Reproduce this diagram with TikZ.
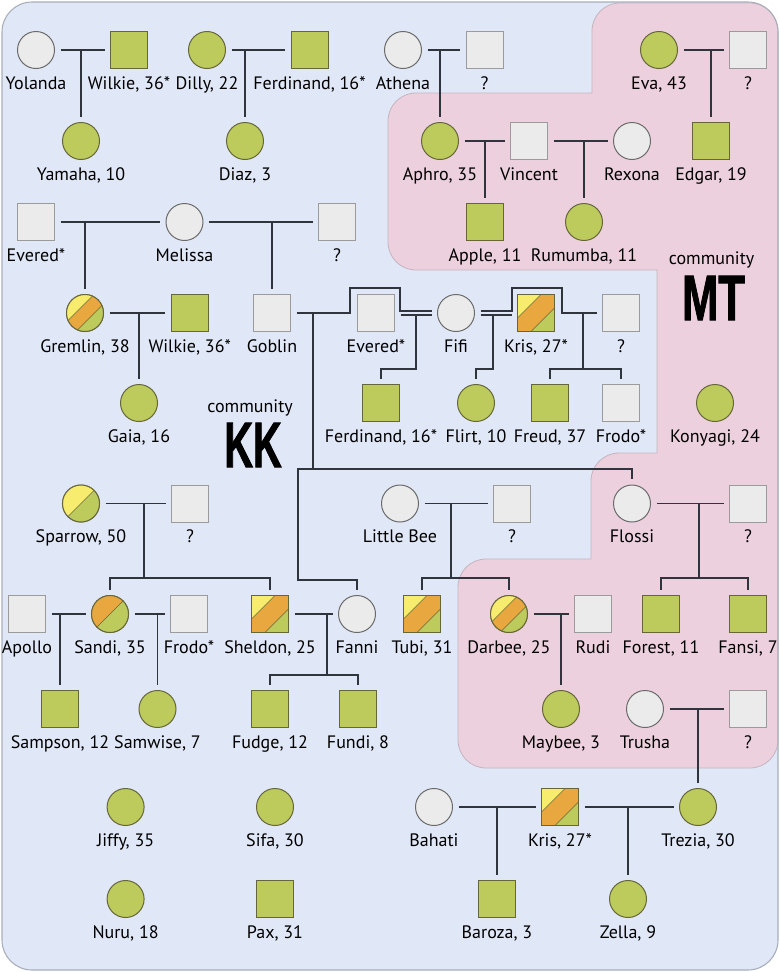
\documentclass[tikz,border=0pt]{standalone}
\usepackage{fontspec}
\setmainfont{PT Sans}
\newfontfamily\heavy[FakeBold=1.6]{Liberation Sans Bold}
\definecolor{bgblue}{HTML}{E0E7F6}
\definecolor{pinkc}{HTML}{EDD0DD}
\definecolor{pbord}{HTML}{C4B4C0}
\definecolor{bord}{HTML}{A8AEBA}
\definecolor{grn}{HTML}{BCCB5C}
\definecolor{gry}{HTML}{EBEBEB}
\definecolor{ylw}{HTML}{F7EC6E}
\definecolor{orng}{HTML}{E9A83F}
\definecolor{linec}{HTML}{30353D}
\definecolor{cgray}{HTML}{6A6A6A}
\definecolor{sgray}{HTML}{9B9B9B}
\definecolor{gbord}{HTML}{66663A}
\newcommand\pp[5]{\node[#1] (#2) at (#3,#4) {}; \node[lbl] (#2-l) at (#3,{#4+39}) {#5};}
\newcommand\tricirc[1]{%
 \begin{scope}[shift={(#1.center)}]
  \begin{scope}
   \clip (0,0) circle[radius=18.5];
   \fill[orng] (-20,-20) rectangle (20,20);
   \fill[ylw] (-40,-40) -- (-40,30.5) -- (30.5,-40) -- cycle;
   \fill[grn] (40,40) -- (40,-30.5) -- (-30.5,40) -- cycle;
   \draw[stripe] (-40,30.5) -- (30.5,-40) (40,-30.5) -- (-30.5,40);
  \end{scope}
  \draw[gbord, line width=0.75pt] (0,0) circle[radius=18.5];
 \end{scope}}
\newcommand\trisq[1]{%
 \begin{scope}[shift={(#1.center)}]
  \begin{scope}
   \clip (-18.5,-18.5) rectangle (18.5,18.5);
   \fill[orng] (-20,-20) rectangle (20,20);
   \fill[ylw] (-40,-40) -- (-40,26.5) -- (26.5,-40) -- cycle;
   \fill[grn] (40,40) -- (40,-26.5) -- (-26.5,40) -- cycle;
   \draw[stripe] (-40,26.5) -- (26.5,-40) (40,-26.5) -- (-26.5,40);
  \end{scope}
  \draw[gbord, line width=0.75pt] (-18.5,-18.5) rectangle (18.5,18.5);
 \end{scope}}
\newcommand\halfcirc[2]{%
 \begin{scope}[shift={(#1.center)}]
  \begin{scope}
   \clip (0,0) circle[radius=18.5];
   \fill[grn] (-20,-20) rectangle (20,20);
   \fill[#2] (-40,-40) -- (-40,40) -- (40,-40) -- cycle;
   \draw[stripe] (-40,40) -- (40,-40);
  \end{scope}
  \draw[gbord, line width=0.75pt] (0,0) circle[radius=18.5];
 \end{scope}}
\begin{document}
\begin{tikzpicture}[x=0.75pt,y=-0.75pt,
  conn/.style={draw=linec, line width=1.2pt},
  sh/.style={shorten >=4.5pt},
  shs/.style={shorten <=4.5pt, shorten >=4.5pt},
  stripe/.style={draw=gbord, line width=0.5pt},
  person/.style={inner sep=0pt, outer sep=0pt, minimum size=27.75pt, line width=0.75pt},
  pgc/.style={person, circle, fill=gry, draw=cgray},
  pgs/.style={person, rectangle, fill=gry, draw=sgray},
  pvc/.style={person, circle, fill=grn, draw=gbord},
  pvs/.style={person, rectangle, fill=grn, draw=gbord},
  lbl/.style={anchor=base, inner sep=0pt, font=\fontsize{13.5}{16}\selectfont},
  bigl/.style={inner sep=0pt, font=\heavy\fontsize{48}{50}\selectfont},
]
\useasboundingbox (0,0) rectangle (780,972);
\fill[bgblue, rounded corners=22.5pt] (2,2) rectangle (778,970);
\filldraw[fill=pinkc, draw=pbord, line width=0.6pt]
 (592,31) arc[start angle=180,end angle=270,radius=28] -- (750,3)
 arc[start angle=270,end angle=360,radius=28] -- (778,740)
 arc[start angle=0,end angle=90,radius=28] -- (486,768)
 arc[start angle=90,end angle=180,radius=28] -- (458,587)
 arc[start angle=180,end angle=270,radius=28] -- (591,559) -- (591,481)
 arc[start angle=180,end angle=270,radius=28] -- (657,453) -- (657,270) -- (416,270)
 arc[start angle=90,end angle=180,radius=28] -- (388,121)
 arc[start angle=180,end angle=270,radius=28] -- (592,93) -- cycle;
\draw[bord, line width=0.8pt, rounded corners=22.5pt] (2,2) rectangle (778,970);

% row 1
\pp{pgc}{yolanda}{36}{50}{Yolanda}
\pp{pvs}{wilkieA}{129}{50}{Wilkie, 36*}
\pp{pvc}{dilly}{207}{50}{Dilly, 22}
\pp{pvs}{ferdA}{309.5}{50}{Ferdinand, 16*}
\pp{pgc}{athena}{403}{50}{Athena}
\pp{pgs}{qA}{484.5}{50}{?}
\pp{pvc}{eva}{659}{50}{Eva, 43}
\pp{pgs}{qB}{748}{50}{?}
% row 2
\pp{pvc}{yamaha}{81}{141}{Yamaha, 10}
\pp{pvc}{diaz}{245}{141}{Diaz, 3}
\pp{pvc}{aphro}{440}{141}{Aphro, 35}
\pp{pgs}{vincent}{529}{141}{Vincent}
\pp{pgc}{rexona}{632}{141}{Rexona}
\pp{pvs}{edgar}{711}{141}{Edgar, 19}
% row 3
\pp{pgs}{everedA}{36}{222}{Evered*}
\pp{pgc}{melissa}{184.5}{222}{Melissa}
\pp{pgs}{qC}{337}{222}{?}
\pp{pvs}{apple}{485}{222}{Apple, 11}
\pp{pvc}{rumumba}{584}{222}{Rumumba, 11}
% row 4
\pp{pvc}{gremlin}{85}{313}{Gremlin, 38}
\pp{pvs}{wilkieB}{189.7}{313}{Wilkie, 36*}
\pp{pgs}{goblin}{272}{313}{Goblin}
\pp{pgs}{everedB}{376}{313}{Evered*}
\pp{pgc}{fifi}{456}{313}{Fifi}
\pp{pvs}{krisA}{536}{313}{Kris, 27*}
\pp{pgs}{qD}{621}{313}{?}
% row 5
\pp{pvc}{gaia}{139}{403}{Gaia, 16}
\pp{pvs}{ferdB}{381}{403}{Ferdinand, 16*}
\pp{pvc}{flirt}{476}{403}{Flirt, 10}
\pp{pvs}{freud}{550}{403}{Freud, 37}
\pp{pgs}{frodoA}{621}{403}{Frodo*}
\pp{pvc}{konyagi}{715}{403}{Konyagi, 24}
% row 6
\pp{pvc}{sparrow}{81}{503.5}{Sparrow, 50}
\pp{pgs}{qE}{190}{503.5}{?}
\pp{pgc}{littlebee}{400}{503.5}{Little Bee}
\pp{pgs}{qF}{512}{503.5}{?}
\pp{pgc}{flossi}{632}{503.5}{Flossi}
\pp{pgs}{qG}{748}{503.5}{?}
% row 7
\pp{pgs}{apollo}{27}{614}{Apollo}
\pp{pvc}{sandi}{110}{614}{Sandi, 35}
\pp{pgs}{frodoB}{189}{614}{Frodo*}
\pp{pvs}{sheldon}{270}{614}{Sheldon, 25}
\pp{pgc}{fanni}{357}{614}{Fanni}
\pp{pvs}{tubi}{422}{614}{Tubi, 31}
\pp{pvc}{darbee}{509}{614}{Darbee, 25}
\pp{pgs}{rudi}{593}{614}{Rudi}
\pp{pvs}{forest}{661}{614}{Forest, 11}
\pp{pvs}{fansi}{748}{614}{Fansi, 7}
% row 8
\pp{pvs}{sampson}{60}{709}{Sampson, 12}
\pp{pvc}{samwise}{157.5}{709}{Samwise, 7}
\pp{pvs}{fudge}{270}{709}{Fudge, 12}
\pp{pvs}{fundi}{358}{709}{Fundi, 8}
\pp{pvc}{maybee}{561}{709}{Maybee, 3}
\pp{pgc}{trusha}{645}{709}{Trusha}
\pp{pgs}{qH}{748}{709}{?}
% row 9
\pp{pvc}{jiffy}{125.6}{807}{Jiffy, 35}
\pp{pvc}{sifa}{275}{807}{Sifa, 30}
\pp{pgc}{bahati}{434}{807}{Bahati}
\pp{pvs}{krisB}{560}{807}{Kris, 27*}
\pp{pvc}{trezia}{698}{807}{Trezia, 30}
% row 10
\pp{pvc}{nuru}{125.6}{899}{Nuru, 18}
\pp{pvs}{pax}{275}{899}{Pax, 31}
\pp{pvs}{baroza}{497}{899}{Baroza, 3}
\pp{pvc}{zella}{628}{899}{Zella, 9}

% patterned symbols
\tricirc{gremlin}
\tricirc{darbee}
\trisq{krisA}
\trisq{krisB}
\trisq{sheldon}
\trisq{tubi}
\halfcirc{sparrow}{ylw}
\halfcirc{sandi}{orng}

% community labels
\node[lbl] (commKK) at (250,412) {community};
\node[bigl] (KK) at (253,445) {\scalebox{0.62}[1]{KK}};
\node[lbl] (commMT) at (711.5,264) {community};
\node[bigl] (MT) at (713.5,298) {\scalebox{0.68}[1]{MT}};

% couples
\foreach \a/\b in {yolanda/wilkieA, dilly/ferdA, athena/qA, eva/qB, aphro/vincent,
  vincent/rexona, everedA/melissa, melissa/qC, gremlin/wilkieB, sparrow/qE,
  littlebee/qF, flossi/qG, apollo/sandi, sandi/frodoB, sheldon/fanni, darbee/rudi,
  trusha/qH, bahati/krisB, krisB/trezia}
  \draw[conn, shs] (\a) -- (\b);
% single children
\foreach \c/\p in {yamaha/yolanda, diaz/dilly, aphro/athena, edgar/eva, apple/aphro,
  rumumba/vincent, gremlin/everedA, goblin/melissa, gaia/gremlin, sampson/apollo,
  samwise/sandi, maybee/darbee, trezia/trusha, baroza/bahati, zella/krisB}
  \draw[conn, sh] (\c |- \p) -- (\c);
% sibling groups
\coordinate (spk) at (144,578);
\draw[conn] (spk |- sparrow) -- (spk);
\draw[conn, shs] (sandi) |- (spk) -| (sheldon);
\coordinate (sfk) at (327,675);
\draw[conn] (sfk |- sheldon) -- (sfk);
\draw[conn, shs] (fudge) |- (sfk) -| (fundi);
\coordinate (lbk) at (451,578);
\draw[conn] (lbk |- littlebee) -- (lbk);
\draw[conn, shs] (tubi) |- (lbk) -| (darbee);
\coordinate (flk) at (699,578);
\draw[conn] (flk |- flossi) -- (flk);
\draw[conn, shs] (forest) |- (flk) -| (fansi);
% Fifi's unions
\draw[conn, shs] (goblin) -- (350,313) |- (400,288) |- ([yshift=1.3pt]fifi.west);
\draw[conn, shs] ([yshift=-1.3pt]everedB.east) -- ([yshift=-1.3pt]fifi.west);
\draw[conn, shs] ([yshift=-1.3pt]fifi.east) -- ([yshift=-1.3pt]krisA.west);
\draw[conn, shs] ([yshift=1.3pt]fifi.east) -| (512,288) -| (562,313) -- (qD);
\coordinate (efk) at (416,369);
\draw[conn, sh] (416,314.7) -- (efk) -| (ferdB);
\coordinate (fkk) at (493,369);
\draw[conn, sh] (493,314.7) -- (fkk) -| (flirt);
\coordinate (fqk) at (583,369);
\draw[conn] (583,313) -- (fqk);
\draw[conn, shs] (freud) |- (fqk) -| (frodoA);
\coordinate (gfk) at (313,469);
\draw[conn] (313,313) -- (gfk);
\draw[conn, shs] (fanni) |- (298,580) -- (298,469) -| (flossi);
\end{tikzpicture}
\end{document}
